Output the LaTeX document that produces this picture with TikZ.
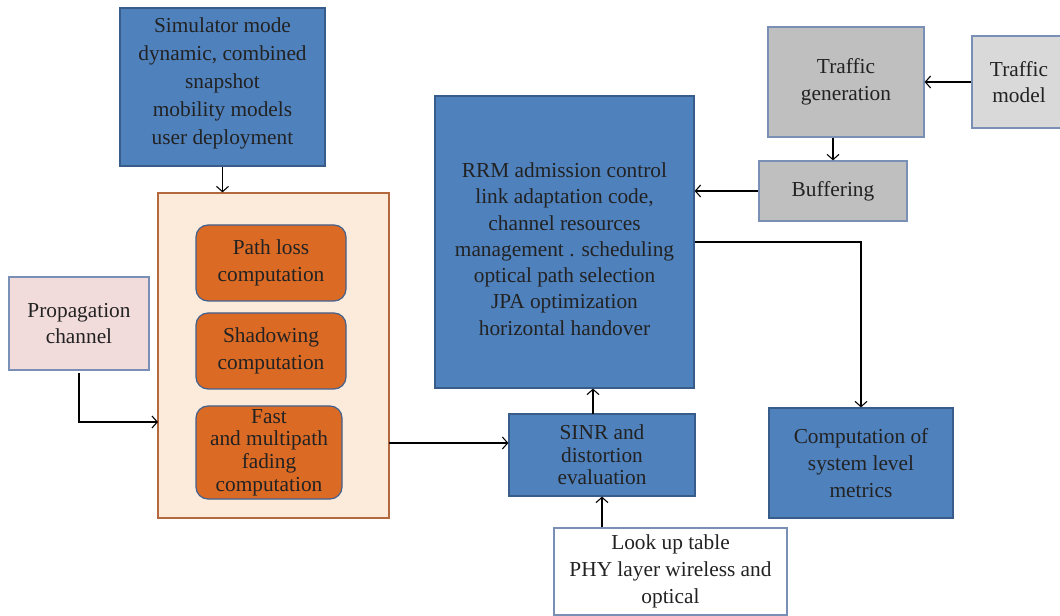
\documentclass[tikz,border=0pt]{standalone}
\usepackage{fontspec}
\setmainfont{Liberation Serif}
\usetikzlibrary{arrows.meta}
\definecolor{bfill}{HTML}{4F81BD}
\definecolor{bdraw}{HTML}{385D8A}
\definecolor{ofill}{HTML}{DB6A25}
\definecolor{odraw}{HTML}{41628F}
\definecolor{cfill}{HTML}{FCEADB}
\definecolor{cdraw}{HTML}{B4683E}
\definecolor{pfill}{HTML}{F2DCDB}
\definecolor{pdraw}{HTML}{7A8FB5}
\definecolor{gfill}{HTML}{BFBFBF}
\definecolor{lgfill}{HTML}{D9D9D9}
\definecolor{txt}{HTML}{222222}
\tikzset{
  base/.style={rectangle, align=center, text=txt, font=\fontsize{16}{20}\selectfont, inner sep=0pt, line width=0.9pt},
  bluebox/.style={base, fill=bfill, draw=bdraw},
  orbox/.style={base, rounded corners=9pt, fill=ofill, draw=odraw},
  contbox/.style={base, fill=cfill, draw=cdraw},
  propbox/.style={base, fill=pfill, draw=pdraw},
  graybox/.style={base, fill=gfill, draw=pdraw},
  lgraybox/.style={base, fill=lgfill, draw=pdraw},
  whitebox/.style={base, fill=white, draw=pdraw},
  label/.style={text=txt, align=center, inner sep=0pt},
  conn/.style={draw=black, line width=0.8pt, -{Straight Barb[length=4pt,width=9pt]}},
}
\begin{document}
\begin{tikzpicture}[x=0.75pt,y=-0.75pt]
\useasboundingbox (0,0) rectangle (1060,616);
\node[bluebox, minimum width=205*0.75pt, minimum height=158*0.75pt] (sim) at (222.5,87) {};
\node[label, font=\fontsize{16}{21}\selectfont] (simt) at (222.5,83) {Simulator mode\\dynamic, combined\\snapshot\\mobility models\\user deployment};
\node[contbox, minimum width=231*0.75pt, minimum height=325*0.75pt] (cont) at (273.5,355.5) {};
\node[orbox, minimum width=150*0.75pt, minimum height=76*0.75pt] (pl) at (271,263) {Path loss\\computation};
\node[orbox, minimum width=150*0.75pt, minimum height=76*0.75pt] (sh) at (271,351) {Shadowing\\computation};
\node[orbox, minimum width=146*0.75pt, minimum height=93*0.75pt, font=\fontsize{16}{17}\selectfont] (ff) at (269,452.5) {Fast\\and multipath\\fading\\computation};
\node[propbox, minimum width=140*0.75pt, minimum height=93*0.75pt] (prop) at (79,323.5) {Propagation\\channel};
\node[bluebox, minimum width=186*0.75pt, minimum height=82*0.75pt, font=\fontsize{16}{17}\selectfont] (sinr) at (602,455) {SINR and\\distortion\\evaluation};
\node[bluebox, minimum width=259*0.75pt, minimum height=292*0.75pt] (rrm) at (564.5,242) {};
\node[label, font=\fontsize{16}{19.7}\selectfont] (rrmt) at (564.5,249) {RRM admission control\\link adaptation code,\\channel resources\\management . scheduling\\optical path selection\\JPA optimization\\horizontal handover};
\node[whitebox, minimum width=233*0.75pt, minimum height=87*0.75pt] (lut) at (670.5,571.5) {Look up table\\PHY layer wireless and\\optical};
\node[graybox, minimum width=156*0.75pt, minimum height=110*0.75pt] (tg) at (846,82) {Traffic\\generation};
\node[lgraybox, minimum width=94*0.75pt, minimum height=92*0.75pt] (tm) at (1019,82) {Traffic\\model};
\node[graybox, minimum width=148*0.75pt, minimum height=60*0.75pt] (buf) at (833,191) {Buffering};
\node[bluebox, minimum width=184*0.75pt, minimum height=110*0.75pt] (comp) at (861,463) {Computation of\\system level\\metrics};
\coordinate (pin) at (158,422);
\coordinate (cout) at (389,443);
\coordinate (rin) at (593,414);
\draw[conn] (sim.south) -- (sim.south |- cont.north);
\draw[conn] ([yshift=-2pt]prop.south) |- (pin);
\draw[conn] (cout) -- (sinr.west |- cout);
\draw[conn] (rin) -- (rin |- rrm.south);
\draw[conn] (sinr.south |- lut.north) -- (sinr.south);
\draw[conn] (tm.west) -- (tg.east);
\draw[conn] (buf.north |- tg.south) -- (buf.north);
\draw[conn] (buf.west) -- (buf.west -| rrm.east);
\draw[conn] (rrm.east) -| (comp.north);
\end{tikzpicture}
\end{document}
